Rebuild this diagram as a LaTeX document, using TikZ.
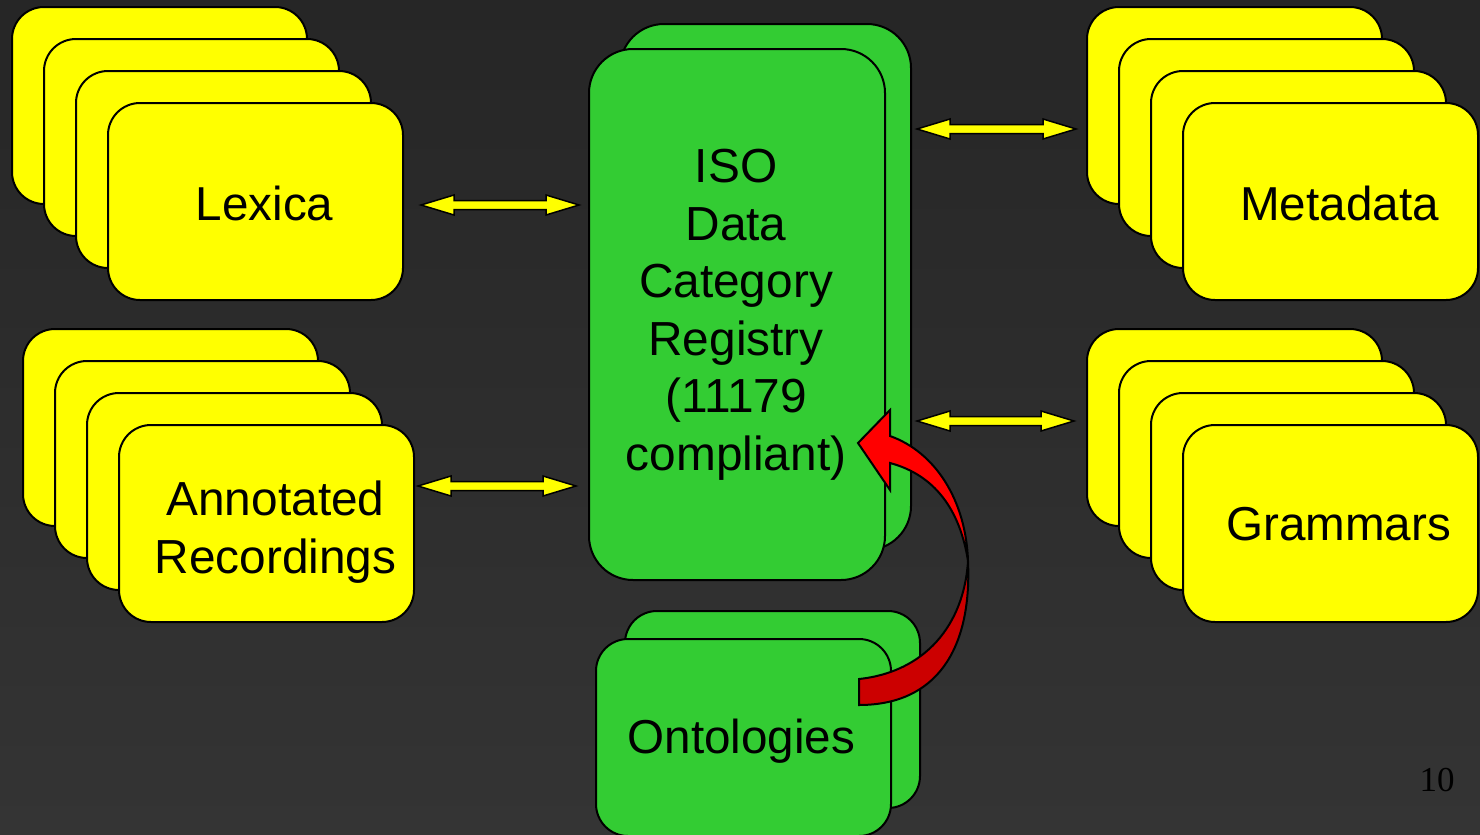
\documentclass[tikz,border=0pt]{standalone}
\usepackage{fontspec}
\setmainfont{Liberation Sans}
\newfontfamily\numfont{Liberation Serif}
\usetikzlibrary{calc}

\definecolor{bgtop}{RGB}{38,38,38}
\definecolor{bgbot}{RGB}{52,52,52}
\definecolor{cardyellow}{RGB}{255,255,0}
\definecolor{cardgreen}{RGB}{51,204,51}
\definecolor{redfront}{RGB}{255,0,0}
\definecolor{redback}{RGB}{204,0,0}

% yellow block arrow with a head at both ends, between two named points
\newcommand\blockdarrow[2]{%
  \filldraw[linkarrow] (#1) -- ($(#1)+(33,-10)$) -- ($(#1)+(33,-4.5)$)
    -- ($(#2)+(-33,-4.5)$) -- ($(#2)+(-33,-10)$) -- (#2)
    -- ($(#2)+(-33,10)$) -- ($(#2)+(-33,4.5)$)
    -- ($(#1)+(33,4.5)$) -- ($(#1)+(33,10)$) -- cycle;}

\begin{document}
\begin{tikzpicture}[x=1pt,y=-1pt,
  ycard/.style={draw=black, line width=2pt, fill=cardyellow,
    rounded corners=32pt, minimum width=295pt, minimum height=197pt,
    inner sep=0pt, outer sep=0pt},
  gcard/.style={draw=black, line width=2pt, fill=cardgreen,
    inner sep=0pt, outer sep=0pt},
  bigtext/.style={font=\fontsize{47.6}{56}\selectfont, text=black,
    inner sep=0pt, anchor=base},
  midtext/.style={font=\fontsize{47.8}{57.5}\selectfont, text=black,
    inner sep=0pt, align=center, anchor=base},
  linkarrow/.style={draw=black, line width=1.5pt, fill=cardyellow,
    line join=miter},
  curvefront/.style={draw=black, line width=2pt, fill=redfront,
    line join=miter},
  curveback/.style={draw=black, line width=2pt, fill=redback,
    line join=miter}]

% page background
\useasboundingbox (0,0) rectangle (1480,835);
\fill[top color=bgtop, bottom color=bgbot] (0,0) rectangle (1480,835);

% stacks of yellow cards
\foreach \i in {1,...,4}{
  \node[ycard] (lex\i) at ({12+32*(\i-1)+147.5},{7+32*(\i-1)+98.5}) {};
}
\foreach \i in {1,...,4}{
  \node[ycard] (ann\i) at ({23+32*(\i-1)+147.5},{329+32*(\i-1)+98.5}) {};
}
\foreach \i in {1,...,4}{
  \node[ycard] (meta\i) at ({1087+32*(\i-1)+147.5},{7+32*(\i-1)+98.5}) {};
}
\foreach \i in {1,...,4}{
  \node[ycard] (gram\i) at ({1087+32*(\i-1)+147.5},{329+32*(\i-1)+98.5}) {};
}

% green registry and ontology cards
\node[gcard, rounded corners=44pt, minimum width=291pt, minimum height=526pt]
  (iso1) at (765.5,287) {};
\node[gcard, rounded corners=44pt, minimum width=296pt, minimum height=531pt]
  (iso2) at (737,314.5) {};
\node[gcard, rounded corners=32pt, minimum width=295pt, minimum height=197pt]
  (ont1) at (772.5,709.5) {};
\node[gcard, rounded corners=32pt, minimum width=295pt, minimum height=197pt]
  (ont2) at (743.5,737.5) {};

% labels (multi-line labels sit on the baseline of their last line)
\node[bigtext] (lexlabel) at (264.5,220) {Lexica};
\node[bigtext] (metalabel) at (1339.5,220) {Metadata};
\node[bigtext] (gramlabel) at (1338.5,540) {Grammars};
\node[bigtext] (ontlabel) at (741.5,753) {Ontologies};
\node[midtext] (annlabel) at (275.5,573) {Annotated\\Recordings};
\node[midtext] (isolabel) at (736,470)
  {ISO\\Data\\Category\\Registry\\(11179\\compliant)};
\node[font=\numfont\fontsize{35}{40}\selectfont, text=black, inner sep=0pt,
  anchor=base] (pagenum) at (1437,791) {10};

% end points of the links
\coordinate (l1a) at ($(lex4.east)+(18,3.5)$);
\coordinate (l1b) at ($(iso2.west)+(-10,0)$);
\coordinate (l2a) at ($(ann4.east)+(4,-37.5)$);
\coordinate (l2b) at ($(iso2.west)+(-13,0)$);
\coordinate (l3a) at ($(iso2.east)+(32,0)$);
\coordinate (l3b) at ($(meta1.west)+(-11,0)$);
\coordinate (l4a) at ($(iso2.east)+(32,0)$);
\coordinate (l4b) at ($(gram1.west)+(-13,0)$);

% links
\blockdarrow{l1a}{l1b |- l1a}
\blockdarrow{l2a}{l2b |- l2a}
\blockdarrow{l3a |- 0,129}{l3b |- 0,129}
\blockdarrow{l4a |- 0,421}{l4b |- 0,421}

% curved arrow from the ontologies to the registry
\coordinate (tailtop) at ($(ont2.east)+(-32,-58.5)$);
\coordinate (tailbot) at ($(ont2.east)+(-32,-32.5)$);
\coordinate (twist) at (968,561);
\filldraw[curveback] (twist) .. controls (964,625) and (925,672) .. (tailtop)
  -- (tailbot) .. controls (936,705) and (972,650) .. (twist) -- cycle;
\filldraw[curvefront] (890,436) .. controls (935,452) and (966,500) .. (twist)
  .. controls (960,510) and (935,475) .. (890,463)
  -- (890,490) -- (858,443) -- (890,410) -- cycle;
\end{tikzpicture}
\end{document}
